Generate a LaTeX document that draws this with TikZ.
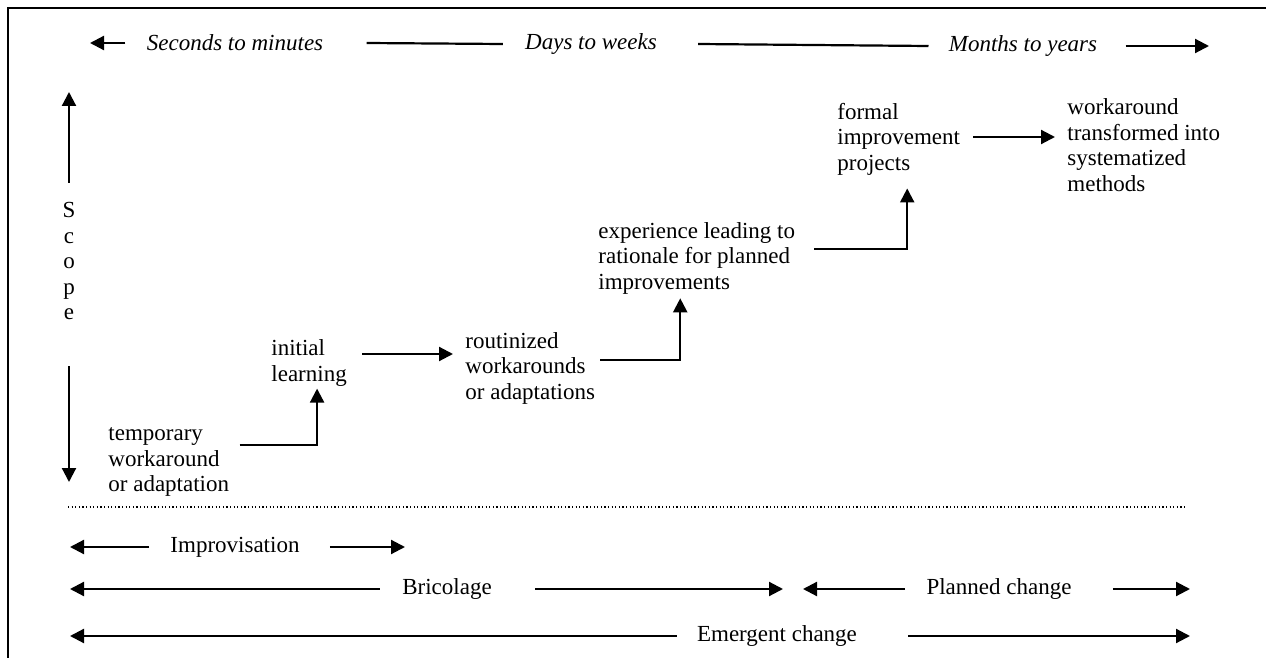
\documentclass[tikz,border=0pt]{standalone}
\usepackage{fontspec}
\setmainfont{Liberation Serif}
\usetikzlibrary{arrows.meta}

\begin{document}
\begin{tikzpicture}[x=0.5pt,y=-0.5pt,
	font=\fontsize{11.5}{12.75}\selectfont,
	>={Triangle[length=7pt,width=7pt]},
	stage/.style={inner sep=0pt, anchor=west, align=left},
	period/.style={inner sep=0pt, font=\fontsize{11.5}{12.75}\selectfont\itshape},
	band/.style={inner sep=0pt},
	link/.style={line width=1.1pt}]
	\useasboundingbox (0,0) rectangle (1266,658);
	\draw[line width=1.3pt] (8,658) -- (8,8) -- (1266,8);

	% time scale
	\node[period] (secs) at (235,43) {Seconds to minutes};
	\node[period] (days) at (591,44) {Days to weeks};
	\node[period] (months) at (1023,46) {Months to years};
	\coordinate (tmin) at (90,43);
	\coordinate (tmax) at (1209,46);
	\draw[link,->] ([xshift=-10.5pt]secs.west) -- (tmin);
	\draw[link] ([xshift=21.5pt]secs.east) -- ([xshift=-11pt]days.west);
	\draw[link] ([xshift=20.5pt]days.east) -- ([xshift=-10pt]months.west);
	\draw[link,->] ([xshift=14pt]months.east) -- (tmax);

	% scope
	\node[inner sep=0pt, align=center] (scope) at (69,261) {S\\c\\o\\p\\e};
	\coordinate (stop) at (69,92);
	\coordinate (sbot) at (69,482);
	\draw[link,->] ([yshift=9.5pt]scope.north) -- (stop);
	\draw[link,->] ([yshift=-23pt]scope.south) -- (sbot);

	% stages
	\node[stage] (temp) at (108,462) {temporary\\workaround\\or adaptation};
	\node[stage] (learn) at (271,363) {initial\\learning};
	\node[stage] (routine) at (465,368) {routinized\\workarounds\\or adaptations};
	\node[stage] (exper) at (598,258) {experience leading to\\rationale for planned\\improvements};
	\node[stage] (formal) at (837,139) {formal\\improvement\\projects};
	\node[stage] (sysmeth) at (1067,145) {workaround\\transformed into\\systematized\\methods};

	\draw[link,->] ([xshift=5pt,yshift=8.5pt]temp.east) -| ([xshift=4pt,yshift=-1pt]learn.south);
	\draw[link,->] ([xshift=7.5pt,yshift=4.5pt]learn.east) coordinate (l2r) -- ([xshift=-6pt]routine.west |- l2r);
	\draw[link,->] ([xshift=2.5pt,yshift=4pt]routine.east) -| ([xshift=-8.25pt,yshift=-2pt]exper.south);
	\draw[link,->] ([xshift=9.5pt,yshift=4.5pt]exper.east) -| ([xshift=4.25pt,yshift=-6.5pt]formal.south);
	\draw[link,->] ([xshift=6.5pt,yshift=1pt]formal.east) coordinate (f2s) -- ([xshift=-6pt]sysmeth.west |- f2s);

	\draw[line width=0.6pt, dash pattern=on 0.6pt off 1.2pt] (68,507) -- (1187,507);

	% kinds of change
	\coordinate (lft) at (70,0);
	\coordinate (rgt) at (1190,0);
	\node[band] (improv) at (235,547) {Improvisation};
	\coordinate (impend) at (405,547);
	\draw[link,->] ([xshift=-10.5pt]improv.west) -- (lft |- improv);
	\draw[link,->] ([xshift=15pt]improv.east) -- (impend);
	\node[band] (brico) at (447,589) {Bricolage};
	\coordinate (bricend) at (783,589);
	\coordinate (planbeg) at (803,589);
	\draw[link,->] ([xshift=-11pt]brico.west) -- (lft |- brico);
	\draw[link,->] ([xshift=21.5pt]brico.east) -- (bricend);
	\node[band] (planned) at (999,589) {Planned change};
	\draw[link,->] ([xshift=-10.5pt]planned.west) -- (planbeg);
	\draw[link,->] ([xshift=20.5pt]planned.east) -- (rgt |- planned);
	\node[band] (emerg) at (777,636) {Emergent change};
	\draw[link,->] ([xshift=-10pt]emerg.west) -- (lft |- emerg);
	\draw[link,->] ([xshift=25.5pt]emerg.east) -- (rgt |- emerg);
\end{tikzpicture}
\end{document}
